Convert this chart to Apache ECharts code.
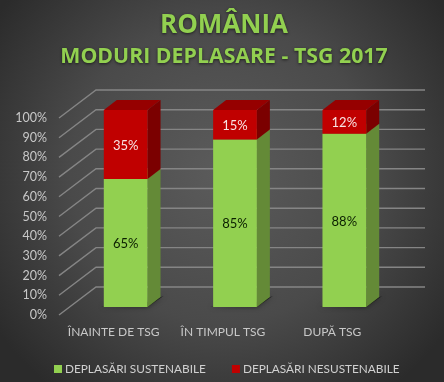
<!DOCTYPE html>
<html>
<head>
<meta charset="utf-8">
<style>
    html, body {margin: 0; padding: 0; background: #333;}
    #chart {width: 444px; height: 382px;}
</style>
<script src="https://cdn.jsdelivr.net/npm/echarts@6/dist/echarts.min.js"></script>
</head>
<body>
<div id="chart"></div>
<script>
const categories = ['ÎNAINTE DE TSG', 'ÎN TIMPUL TSG', 'DUPĂ TSG'];
const sustainable = [65, 85, 88];
const unsustainable = [35, 15, 12];
const wallTicks = [0, 10, 20, 30, 40, 50, 60, 70, 80, 90, 100];

const sustainableName = 'DEPLASĂRI SUSTENABILE';
const unsustainableName = 'DEPLASĂRI NESUSTENABILE';

// fake 3d depth, in pixels
const wallDx = 37, wallDy = -28, wallEnd = 425;
const barDx = 12, barDy = -8, sideDx = 13, sideDy = -10;
const barRatio = 0.4;

function renderWall (params, api){
    let p = api.coord([0, api.value(1)]);
    let left = params.coordSys.x;
    return {
        type: 'polyline',
        silent: true,
        shape: {points: [[left, p[1]], [left + wallDx, p[1] + wallDy], [wallEnd, p[1] + wallDy]]},
        style: {fill: null, stroke: '#858585', lineWidth: 1.4}
    };
}

function boxRenderer (colors, labelColor, withShadow){
    return function (params, api){
        let low = api.coord([api.value(0), api.value(2)]);
        let high = api.coord([api.value(0), api.value(1)]);
        let w = api.size([1, 0])[0] * barRatio;
        let x = low[0] + barDx - w / 2;
        let y1 = low[1] + barDy;
        let y2 = high[1] + barDy;
        let children = [];
        if (withShadow){
            children.push({
                type: 'polygon',
                shape: {points: [[x - 3, y1], [x + w, y1], [x + w + sideDx + 3, y1 + sideDy - 1], [x + w, y1 - 5]]},
                style: {fill: 'rgba(20,20,20,0.75)', shadowBlur: 5, shadowColor: 'rgba(0,0,0,0.7)'}
            });
        }
        children.push({
            type: 'polygon',
            shape: {points: [[x + w, y1], [x + w + sideDx, y1 + sideDy], [x + w + sideDx, y2 + sideDy], [x + w, y2]]},
            style: {fill: colors.side}
        });
        children.push({
            type: 'polygon',
            shape: {points: [[x, y2], [x + sideDx, y2 + sideDy], [x + w + sideDx, y2 + sideDy], [x + w, y2]]},
            style: {fill: colors.top}
        });
        children.push({
            type: 'rect',
            shape: {x: x, y: y2, width: w, height: y1 - y2},
            style: {fill: colors.front}
        });
        children.push({
            type: 'text',
            style: {
                x: x + w / 2,
                y: (y1 + y2) / 2 + 1,
                text: (api.value(1) - api.value(2)) + '%',
                fill: labelColor,
                font: '13px Lato',
                align: 'center',
                verticalAlign: 'middle'
            }
        });
        return {type: 'group', children: children};
    };
}

let chart = echarts.init(document.getElementById('chart'));
chart.setOption({
    animation: false,
    backgroundColor: {
        type: 'radial', x: 0.5, y: 0.45, r: 0.72,
        colorStops: [{offset: 0, color: '#5b5b5b'}, {offset: 0.55, color: '#4a4a4a'}, {offset: 1, color: '#2b2b2b'}]
    },
    title: [{
        text: 'ROMÂNIA',
        left: 219,
        textAlign: 'center',
        top: 8,
        textStyle: {
            fontFamily: 'Open Sans', fontWeight: 'bold', fontSize: 26, color: '#92d050',
            textShadowColor: 'rgba(0,0,0,0.6)', textShadowBlur: 3, textShadowOffsetY: 1
        }
    }, {
        text: 'MODURI DEPLASARE - TSG 2017',
        left: 219,
        textAlign: 'center',
        top: 41,
        textStyle: {
            fontFamily: 'Open Sans', fontWeight: 'bold', fontSize: 21.3, color: '#92d050',
            textShadowColor: 'rgba(0,0,0,0.6)', textShadowBlur: 3, textShadowOffsetY: 1
        }
    }],
    legend: {
        left: 49,
        top: 358,
        itemWidth: 8,
        itemHeight: 8,
        itemGap: 26,
        icon: 'rect',
        data: [sustainableName, unsustainableName],
        textStyle: {color: '#d0d0d0', fontFamily: 'Lato', fontSize: 11.8, padding: [0, 0, 0, -2]}
    },
    grid: {left: 59, top: 118, width: 328, height: 197},
    xAxis: {
        type: 'category',
        data: categories,
        axisLine: {show: false},
        axisTick: {show: false},
        axisLabel: {interval: 0, color: '#c8c8c8', fontFamily: 'Lato', fontSize: 12, margin: 11}
    },
    yAxis: {
        type: 'value',
        min: 0,
        max: 100,
        interval: 10,
        axisLine: {show: false},
        axisTick: {show: false},
        splitLine: {show: false},
        axisLabel: {formatter: '{value}%', color: '#c8c8c8', fontFamily: 'Lato', fontSize: 12.5, margin: 12}
    },
    series: [{
        type: 'custom',
        silent: true,
        z: 1,
        renderItem: renderWall,
        encode: {x: 0, y: 1},
        data: wallTicks.map(v => [0, v])
    }, {
        type: 'custom',
        name: sustainableName,
        z: 2,
        itemStyle: {color: '#92d050'},
        renderItem: boxRenderer({front: '#92d050', side: '#648a37', top: '#7aa83f'}, '#0b1f00', true),
        encode: {x: 0, y: [1, 2]},
        data: sustainable.map((v, i) => [i, v, 0])
    }, {
        type: 'custom',
        name: unsustainableName,
        z: 3,
        itemStyle: {color: '#c00000'},
        renderItem: boxRenderer({front: '#c00000', side: '#7b0000', top: '#960000'}, '#f8e4e4', false),
        encode: {x: 0, y: [1, 2]},
        data: unsustainable.map((v, i) => [i, sustainable[i] + v, sustainable[i]])
    }]
});
</script>
</body>
</html>
